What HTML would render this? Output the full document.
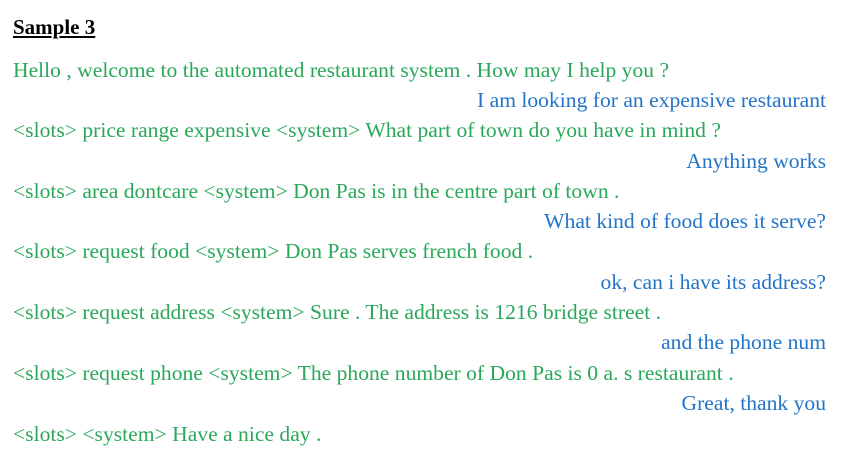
<!DOCTYPE html>
<html><head><meta charset="utf-8"><style>
body{margin:0;width:842px;height:470px;background:#fff;position:relative;overflow:hidden;font-family:"Liberation Serif","Times New Roman",serif;font-size:21.6px;}
.l{position:absolute;left:13px;white-space:nowrap;line-height:22px;}
.g{color:#2aa85a;}
.b{color:#2374c6;left:auto;right:16px;}
h1{position:absolute;left:13px;top:16px;margin:0;font-size:21px;font-weight:bold;text-decoration:underline;line-height:22px;color:#000;font-family:inherit;}
</style></head><body>
<h1>Sample 3</h1>
<div class="l g" style="top:59px">Hello , welcome to the automated restaurant system . How may I help you ?</div>
<div class="l b" style="top:89px">I am looking for an expensive restaurant</div>
<div class="l g" style="top:119px">&lt;slots&gt; price range expensive &lt;system&gt; What part of town do you have in mind ?</div>
<div class="l b" style="top:150px">Anything works</div>
<div class="l g" style="top:180px">&lt;slots&gt; area dontcare &lt;system&gt; Don Pas is in the centre part of town .</div>
<div class="l b" style="top:210px">What kind of food does it serve?</div>
<div class="l g" style="top:240px">&lt;slots&gt; request food &lt;system&gt; Don Pas serves french food .</div>
<div class="l b" style="top:271px">ok, can i have its address?</div>
<div class="l g" style="top:301px">&lt;slots&gt; request address &lt;system&gt; Sure . The address is 1216 bridge street .</div>
<div class="l b" style="top:331px">and the phone num</div>
<div class="l g" style="top:362px">&lt;slots&gt; request phone &lt;system&gt; The phone number of Don Pas is 0 a. s restaurant .</div>
<div class="l b" style="top:392px">Great, thank you</div>
<div class="l g" style="top:423px">&lt;slots&gt; &lt;system&gt; Have a nice day .</div>
</body></html>
